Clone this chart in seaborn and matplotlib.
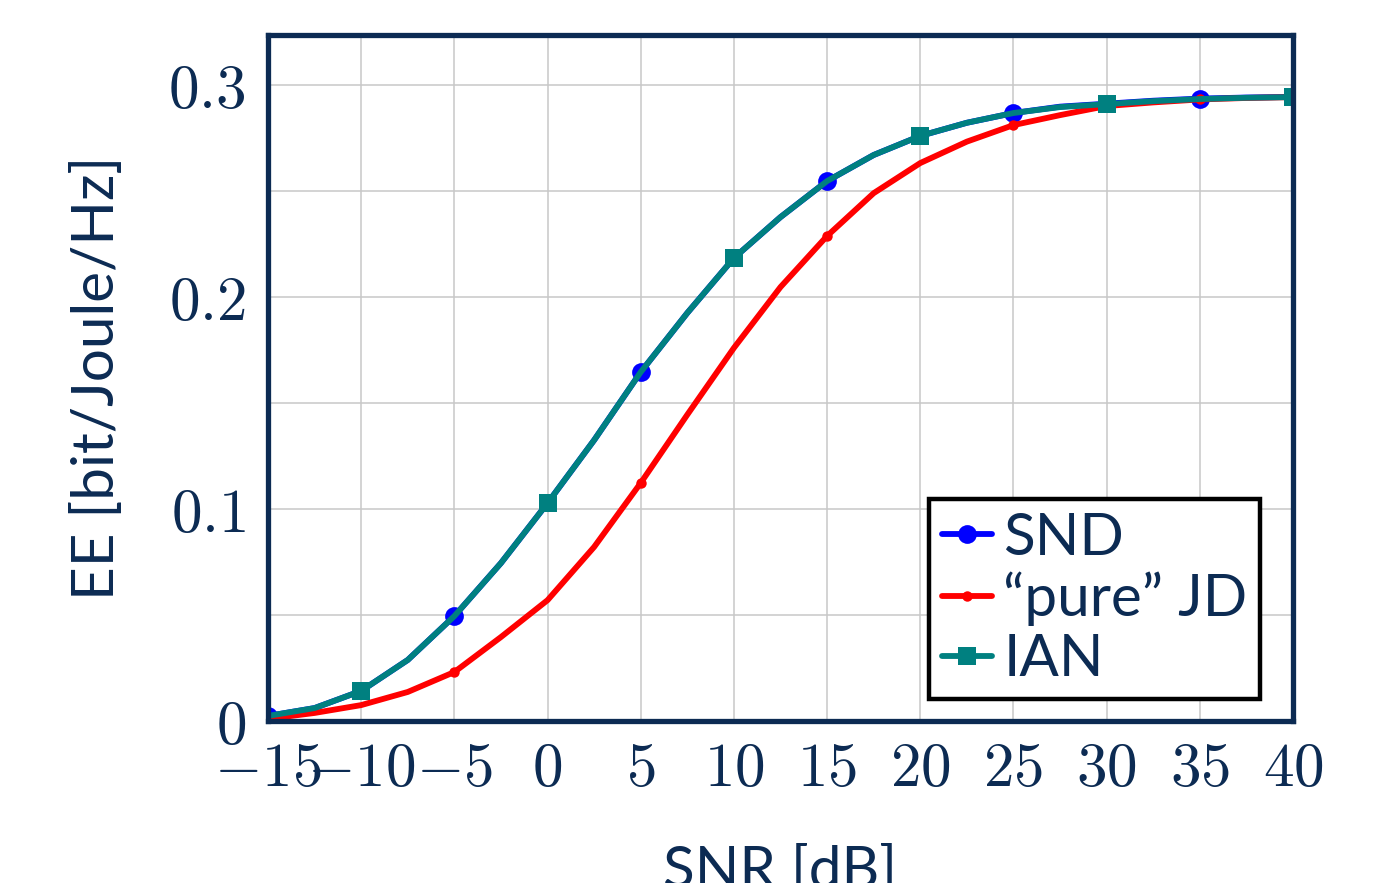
import numpy as np
import pandas as pd
import seaborn as sns
import matplotlib.pyplot as plt
from matplotlib.ticker import FixedLocator, FixedFormatter

# SNR grid in dB (2.5 dB steps) and the read-off energy efficiency values
snr = [-15, -12.5, -10, -7.5, -5, -2.5, 0, 2.5, 5, 7.5, 10, 12.5,
       15, 17.5, 20, 22.5, 25, 27.5, 30, 32.5, 35, 37.5, 40]
ee_snd = [0.0024, 0.0061, 0.0142, 0.0288, 0.0495, 0.0745, 0.1028, 0.1325, 0.1646, 0.1925, 0.2184, 0.2377,
          0.2547, 0.2670, 0.2760, 0.2822, 0.2868, 0.2898, 0.2912, 0.2926, 0.2936, 0.2941, 0.2944]
ee_jd = [0.0010, 0.0038, 0.0075, 0.0137, 0.0231, 0.0396, 0.0570, 0.0821, 0.1123, 0.1445, 0.1760, 0.2047,
         0.2288, 0.2490, 0.2632, 0.2733, 0.2811, 0.2858, 0.2901, 0.2918, 0.2932, 0.2939, 0.2943]
ee_ian = [0.0024, 0.0061, 0.0142, 0.0288, 0.0495, 0.0745, 0.1028, 0.1325, 0.1646, 0.1925, 0.2184, 0.2377,
          0.2547, 0.2670, 0.2760, 0.2822, 0.2868, 0.2896, 0.2910, 0.2924, 0.2934, 0.2940, 0.2943]

x_ticks = [-15, -10, -5, 0, 5, 10, 15, 20, 25, 30, 35, 40]
y_ticks = [0, 0.05, 0.1, 0.15, 0.2, 0.25, 0.3]
y_tick_labels = ["0", "", "0.1", "", "0.2", "", "0.3"]

navy = "#0c2b53"
sans = ["Lato", "DejaVu Sans"]

sns.set_theme(style="white")
plt.rcParams["font.family"] = sans
plt.rcParams["mathtext.fontset"] = "cm"

fig = plt.figure(figsize=(13.87, 8.83), dpi=100)
ax = fig.add_axes([268 / 1387, 1 - 721 / 883, 1025 / 1387, 686 / 883])

# markers sit every 10 dB: SND / JD from -15, IAN from -10
series = [
    ("SND", ee_snd, "#0000ff", "o", 13.5, 0),
    ("\u201cpure\u201d JD", ee_jd, "#ff0000", "o", 7.5, 0),
    ("IAN", ee_ian, "#008080", "s", 13, 2),
]
for name, vals, col, mk, ms, start in series:
    df = pd.DataFrame({"snr": snr, "ee": vals})
    sns.lineplot(data=df, x="snr", y="ee", ax=ax, color=col, lw=4.2,
                 marker=mk, markersize=ms, markeredgewidth=0, markevery=(start, 4),
                 label=name, errorbar=None, solid_joinstyle="round")

ax.set_xlim(-15, 40)
ax.set_ylim(0, 0.3236)
ax.xaxis.set_major_locator(FixedLocator(x_ticks))
ax.xaxis.set_major_formatter(FixedFormatter([f"${v}$" for v in x_ticks]))
ax.yaxis.set_major_locator(FixedLocator(y_ticks))
ax.yaxis.set_major_formatter(FixedFormatter([f"${t}$" if t else "" for t in y_tick_labels]))
ax.grid(True, color="#c8c8c8", lw=1.1)
ax.set_axisbelow(True)
ax.tick_params(axis="both", direction="in", labelsize=44, labelcolor=navy,
               length=7, width=1.3, color="#7f7f7f", pad=16)
ax.tick_params(axis="x", pad=14)

for sp in ax.spines.values():
    sp.set_color(navy)
    sp.set_linewidth(3.8)

ax.set_xlabel("SNR [dB]", fontsize=42, color=navy, labelpad=34)
ax.set_ylabel("EE [bit/Joule/Hz]", fontsize=42, color=navy, labelpad=32)

leg = ax.legend(loc="lower right", bbox_to_anchor=(0.968, 0.032), fontsize=42,
                frameon=True, fancybox=False, edgecolor="black", framealpha=1,
                handlelength=0.85, handletextpad=0.2, labelspacing=0.12,
                borderpad=0.22, borderaxespad=0)
leg.get_frame().set_linewidth(3.2)
for t in leg.get_texts():
    t.set_color(navy)

fig.savefig("out.png", dpi=100)
